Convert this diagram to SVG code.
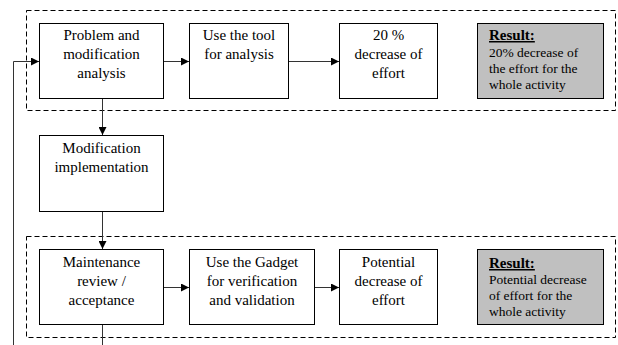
<svg xmlns="http://www.w3.org/2000/svg" width="618" height="345" viewBox="0 0 618 345">
<style>
.box{fill:#fff;stroke:#000;stroke-width:1}
.res{fill:#c0c0c0;stroke:#000;stroke-width:1}
.grp{fill:none;stroke:#000;stroke-width:1;stroke-dasharray:5,3}
.t{font-family:"Liberation Serif","Times New Roman",serif;font-size:15px;fill:#000;text-anchor:middle}
.r{font-family:"Liberation Serif","Times New Roman",serif;font-size:13.5px;fill:#000}
.rh{font-weight:bold;font-size:15px;text-decoration:underline}
.c{fill:none;stroke:#333;stroke-width:1}
</style>
<defs>
<marker id="ah" markerWidth="8" markerHeight="8" refX="8" refY="4" orient="auto" markerUnits="userSpaceOnUse">
<path d="M0,0 L8,4 L0,8 Z" fill="#000"/>
</marker>
</defs>
<g id="groups">
<rect class="grp" x="26.5" y="10.5" width="589" height="100"/>
<rect class="grp" x="26.5" y="236.5" width="589" height="101"/>
</g>
<g id="connectors">
<path class="c" d="M13.5,345 L13.5,61.5 L39,61.5" marker-end="url(#ah)"/>
<path class="c" d="M163,61.5 L189,61.5" marker-end="url(#ah)"/>
<path class="c" d="M288,61.5 L339,61.5" marker-end="url(#ah)"/>
<path class="c" d="M102.5,98 L102.5,135" marker-end="url(#ah)"/>
<path class="c" d="M102.5,211 L102.5,249" marker-end="url(#ah)"/>
<path class="c" d="M163,287.5 L189,287.5" marker-end="url(#ah)"/>
<path class="c" d="M314,287.5 L339,287.5" marker-end="url(#ah)"/>
<path class="c" d="M102.5,324 L102.5,345"/>
</g>
<g id="n1">
<rect class="box" x="39.5" y="23.5" width="124" height="75"/>
<text class="t" x="101.5" y="40">Problem and</text>
<text class="t" x="101.5" y="59">modification</text>
<text class="t" x="101.5" y="78">analysis</text>
</g>
<g id="n2">
<rect class="box" x="189.5" y="23.5" width="99" height="75"/>
<text class="t" x="239" y="40">Use the tool</text>
<text class="t" x="239" y="59">for analysis</text>
</g>
<g id="n3">
<rect class="box" x="339.5" y="23.5" width="98" height="75"/>
<text class="t" x="388.5" y="40">20 %</text>
<text class="t" x="388.5" y="59">decrease of</text>
<text class="t" x="388.5" y="78">effort</text>
</g>
<g id="r1">
<rect class="res" x="477.5" y="23.5" width="126" height="75"/>
<text class="r rh" x="489" y="40">Result:</text>
<text class="r" x="489" y="57">20% decrease of</text>
<text class="r" x="489" y="73">the effort for the</text>
<text class="r" x="489" y="89">whole activity</text>
</g>
<g id="n4">
<rect class="box" x="39.5" y="135.5" width="124" height="76"/>
<text class="t" x="101.5" y="153">Modification</text>
<text class="t" x="101.5" y="172">implementation</text>
</g>
<g id="n5">
<rect class="box" x="39.5" y="249.5" width="124" height="75"/>
<text class="t" x="101.5" y="267">Maintenance</text>
<text class="t" x="101.5" y="286">review /</text>
<text class="t" x="101.5" y="305">acceptance</text>
</g>
<g id="n6">
<rect class="box" x="189.5" y="249.5" width="125" height="75"/>
<text class="t" x="252" y="267">Use the Gadget</text>
<text class="t" x="252" y="286">for verification</text>
<text class="t" x="252" y="305">and validation</text>
</g>
<g id="n7">
<rect class="box" x="339.5" y="249.5" width="98" height="75"/>
<text class="t" x="388.5" y="267">Potential</text>
<text class="t" x="388.5" y="286">decrease of</text>
<text class="t" x="388.5" y="305">effort</text>
</g>
<g id="r2">
<rect class="res" x="477.5" y="249.5" width="126" height="75"/>
<text class="r rh" x="489" y="268">Result:</text>
<text class="r" x="489" y="284">Potential decrease</text>
<text class="r" x="489" y="300">of effort for the</text>
<text class="r" x="489" y="316">whole activity</text>
</g>
</svg>
